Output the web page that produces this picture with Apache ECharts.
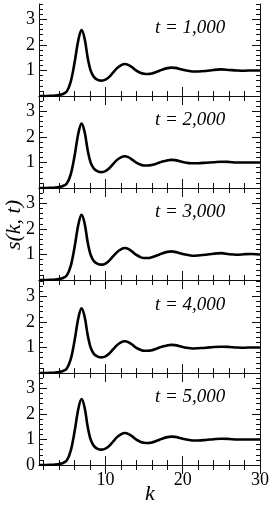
<!DOCTYPE html>
<html><head><meta charset="utf-8">
<script src="https://cdn.jsdelivr.net/npm/echarts@6/dist/echarts.min.js"></script>
<style>html,body{margin:0;padding:0;background:#fff}#c{width:273px;height:506px}</style>
</head><body><div id="c"></div>
<script>
const kValues = [1.4, 2, 3, 3.5, 4, 4.5, 5, 5.5, 6, 6.5, 6.9, 7.3, 7.7, 8.1, 8.5, 9, 9.5, 10, 10.5, 11, 11.5, 12, 12.5, 13, 13.5, 14, 14.5, 15, 15.5, 16, 16.5, 17, 17.5, 18, 18.5, 19, 19.5, 20, 20.5, 21, 21.5, 22, 23, 24, 25, 26, 27, 28, 29, 30];
const s1000 = [0.00, 0.00, 0.01, 0.02, 0.04, 0.08, 0.18, 0.55, 1.30, 2.20, 2.58, 2.25, 1.50, 0.98, 0.75, 0.63, 0.60, 0.64, 0.75, 0.92, 1.09, 1.20, 1.25, 1.21, 1.11, 0.99, 0.91, 0.87, 0.86, 0.88, 0.93, 0.99, 1.05, 1.09, 1.11, 1.10, 1.07, 1.03, 1.00, 0.97, 0.96, 0.96, 0.98, 1.02, 1.04, 1.02, 1.00, 0.99, 1.00, 1.00];
const s2000 = [0.00, 0.00, 0.01, 0.02, 0.04, 0.08, 0.18, 0.52, 1.25, 2.15, 2.52, 2.20, 1.48, 0.98, 0.76, 0.65, 0.62, 0.66, 0.77, 0.94, 1.10, 1.20, 1.24, 1.20, 1.10, 0.99, 0.92, 0.88, 0.88, 0.90, 0.94, 1.00, 1.05, 1.08, 1.10, 1.09, 1.06, 1.02, 0.99, 0.97, 0.97, 0.97, 0.99, 1.01, 1.03, 1.02, 1.00, 1.00, 1.00, 1.00];
const s3000 = [0.00, 0.00, 0.01, 0.02, 0.04, 0.08, 0.18, 0.54, 1.28, 2.18, 2.55, 2.22, 1.48, 0.97, 0.74, 0.63, 0.60, 0.64, 0.76, 0.93, 1.09, 1.20, 1.25, 1.21, 1.10, 0.98, 0.90, 0.86, 0.86, 0.89, 0.94, 1.00, 1.06, 1.10, 1.12, 1.10, 1.06, 1.02, 0.99, 0.96, 0.95, 0.96, 0.99, 1.03, 1.05, 1.01, 0.99, 1.01, 1.02, 1.00];
const s4000 = [0.00, 0.00, 0.01, 0.02, 0.04, 0.08, 0.18, 0.53, 1.26, 2.16, 2.53, 2.21, 1.49, 0.98, 0.75, 0.64, 0.61, 0.65, 0.76, 0.93, 1.09, 1.20, 1.24, 1.20, 1.10, 0.98, 0.91, 0.87, 0.87, 0.89, 0.94, 1.00, 1.05, 1.08, 1.10, 1.09, 1.06, 1.02, 0.99, 0.97, 0.96, 0.97, 0.99, 1.02, 1.03, 1.02, 1.00, 0.99, 1.00, 1.00];
const s5000 = [0.00, 0.00, 0.01, 0.02, 0.04, 0.08, 0.18, 0.55, 1.30, 2.21, 2.58, 2.25, 1.50, 0.98, 0.75, 0.63, 0.60, 0.64, 0.75, 0.92, 1.09, 1.20, 1.25, 1.21, 1.11, 0.99, 0.91, 0.87, 0.86, 0.88, 0.93, 0.99, 1.05, 1.09, 1.11, 1.10, 1.07, 1.03, 1.00, 0.97, 0.96, 0.96, 0.98, 1.01, 1.03, 1.02, 1.00, 1.00, 1.00, 1.00];
const panelSeries = [s1000, s2000, s3000, s4000, s5000];
const panelLabels = ['t = 1,000', 't = 2,000', 't = 3,000', 't = 4,000', 't = 5,000'];
const xMinorTicks = [2, 4, 6, 8, 10, 12, 14, 16, 18, 20, 22, 24, 26, 28, 30];
const xMajorTicks = [10, 20, 30];
const yLabelsUpper = [1, 2, 3];
const yLabelsBottom = [0, 1, 2, 3];
const xTitle = 'k';
const yTitle = 's(k, t)';

const FONT = 'Liberation Serif';
const XMIN = 1.4, XMAX = 30, YMIN = 0, YMAX = 3.6;
const tops = [4, 96, 188, 281, 373];
const H = 92;
const axisLine = {show: true, lineStyle: {color: '#111', width: 1}};

const grid = [], xAxis = [], yAxis = [], series = [], graphic = [];
tops.forEach((top, i) => {
  grid.push({left: 39, right: 13, top: top, height: H});
  const isBottom = i === tops.length - 1;
  const xi = xAxis.length;
  xAxis.push({type: 'value', gridIndex: i, min: XMIN, max: XMAX, position: 'bottom',
    axisLine: axisLine, splitLine: {show: false},
    axisTick: {show: true, inside: true, length: 5, customValues: xMinorTicks, lineStyle: {color: '#111'}},
    axisLabel: {show: false}});
  xAxis.push({type: 'value', gridIndex: i, min: XMIN, max: XMAX, position: 'bottom',
    axisLine: {show: false}, splitLine: {show: false},
    axisTick: {show: true, inside: true, length: 9, customValues: xMajorTicks, lineStyle: {color: '#111'}},
    axisLabel: {show: isBottom, customValues: xMajorTicks, margin: 6, color: '#000', fontFamily: FONT, fontSize: 18}});
  xAxis.push({type: 'value', gridIndex: i, min: XMIN, max: XMAX, position: 'top',
    axisLine: axisLine, splitLine: {show: false},
    axisTick: {show: true, inside: true, length: 5, customValues: xMinorTicks, lineStyle: {color: '#111'}},
    axisLabel: {show: false}});
  xAxis.push({type: 'value', gridIndex: i, min: XMIN, max: XMAX, position: 'top',
    axisLine: {show: false}, splitLine: {show: false},
    axisTick: {show: true, inside: true, length: 9, customValues: xMajorTicks, lineStyle: {color: '#111'}},
    axisLabel: {show: false}});
  const yi = yAxis.length;
  yAxis.push({type: 'value', gridIndex: i, min: YMIN, max: YMAX, interval: 0.2, position: 'left',
    axisLine: axisLine, splitLine: {show: false},
    axisTick: {show: true, inside: true, length: 4, lineStyle: {color: '#111'}},
    axisLabel: {show: false}});
  yAxis.push({type: 'value', gridIndex: i, min: YMIN, max: YMAX, position: 'left',
    axisLine: {show: false}, splitLine: {show: false},
    axisTick: {show: true, inside: true, length: 8, customValues: [1, 2, 3], lineStyle: {color: '#111'}},
    axisLabel: {show: true, customValues: isBottom ? yLabelsBottom : yLabelsUpper, margin: 4, color: '#000', fontFamily: FONT, fontSize: 18}});
  yAxis.push({type: 'value', gridIndex: i, min: YMIN, max: YMAX, interval: 0.2, position: 'right',
    axisLine: axisLine, splitLine: {show: false},
    axisTick: {show: true, inside: true, length: 4, lineStyle: {color: '#111'}},
    axisLabel: {show: false}});
  yAxis.push({type: 'value', gridIndex: i, min: YMIN, max: YMAX, position: 'right',
    axisLine: {show: false}, splitLine: {show: false},
    axisTick: {show: true, inside: true, length: 8, customValues: [1, 2, 3], lineStyle: {color: '#111'}},
    axisLabel: {show: false}});
  series.push({type: 'line', xAxisIndex: xi, yAxisIndex: yi, showSymbol: false, smooth: 0.35,
    lineStyle: {color: '#000', width: 2.6}, z: 5,
    data: kValues.map((k, j) => [k, panelSeries[i][j]])});
  graphic.push({type: 'text', left: 155, top: top + 14,
    style: {text: panelLabels[i], font: 'italic 19px "Liberation Serif"', fill: '#000'}});
});
graphic.push({type: 'text', x: 150, y: 494,
  style: {text: xTitle, font: 'italic 22px "Liberation Serif"', fill: '#000', align: 'center', verticalAlign: 'middle'}});
graphic.push({type: 'text', x: 14, y: 225, rotation: Math.PI / 2,
  style: {text: yTitle, font: 'italic 22px "Liberation Serif"', fill: '#000', align: 'center', verticalAlign: 'middle'}});

const chart = echarts.init(document.getElementById('c'), null, {renderer: 'canvas'});
chart.setOption({animation: false, grid, xAxis, yAxis, series, graphic});
</script></body></html>
